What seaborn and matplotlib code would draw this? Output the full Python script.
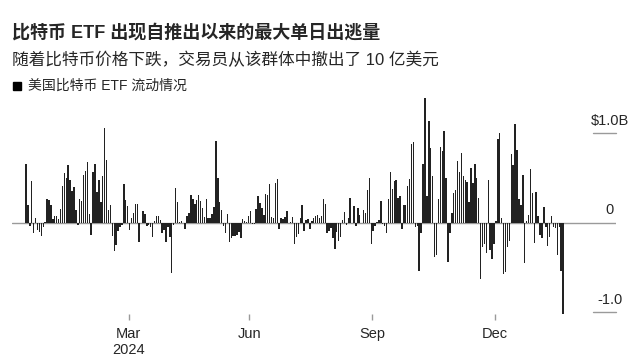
import numpy as np
import pandas as pd
import matplotlib
matplotlib.use("Agg")
import matplotlib.pyplot as plt
import matplotlib.transforms as mtransforms
from matplotlib.patches import Rectangle
import seaborn as sns

# Set styling (font list after set_theme, it resets font.family)
sns.set_theme(style="white")
FONT = ['Liberation Sans', 'Noto Sans CJK SC']
plt.rcParams.update({
    'figure.facecolor': 'white',
    'axes.facecolor': 'white',
    'font.family': FONT,
    'font.size': 10.5,
})

# Daily net flows of US spot bitcoin ETFs (billion USD), one list per month
flows_2024_01 = [0.66, 0.20, -0.04, 0.47, -0.12, 0.05, -0.08, -0.10, -0.15, -0.05, 0.01, 0.26, 0.25, 0.20]
flows_2024_02 = [0.04, 0.08, 0.07, 0.04, 0.15, 0.41, 0.55, 0.50, 0.64, 0.48, 0.35, 0.40, 0.14, -0.03,
                 0.26, 0.24, 0.53, 0.58, 0.68, 0.10]
flows_2024_03 = [-0.14, 0.57, 0.66, 0.34, 0.48, 0.23, 0.52, 1.06, 0.70, 0.14, 0.20, -0.15, -0.32, -0.25,
                 -0.09, -0.05, -0.03, 0.43, 0.25, 0.19]
flows_2024_04 = [-0.08, 0.05, 0.11, 0.21, 0.21, -0.22, 0.00, 0.13, 0.10, -0.04, -0.03, -0.05, -0.16, 0.02,
                 0.07, 0.07, 0.03, -0.12, -0.08, -0.21, -0.05, -0.16]
flows_2024_05 = [-0.56, -0.03, 0.39, 0.23, 0.01, 0.02, 0.00, -0.07, 0.07, 0.11, 0.31, 0.26, 0.21, 0.25,
                 0.31, 0.24, 0.16, 0.06, 0.26, 0.05, 0.05, 0.10]
flows_2024_06 = [0.17, 0.91, 0.50, 0.23, 0.14, -0.04, -0.12, 0.10, -0.21, -0.17, -0.15, -0.15, -0.14, -0.10,
                 -0.17, 0.04, 0.02, 0.01, 0.07]
flows_2024_07 = [0.13, -0.01, -0.01, 0.15, 0.30, 0.22, 0.16, 0.09, 0.32, 0.31, 0.43, 0.06, 0.05, 0.44,
                 0.49, -0.07, 0.05, 0.04, 0.06, 0.13, 0.00, 0.01]
flows_2024_08 = [0.06, -0.24, -0.16, -0.13, 0.05, 0.20, -0.09, 0.03, 0.04, -0.07, 0.02, 0.05, 0.07, 0.09,
                 0.05, 0.07, 0.26, 0.21, -0.12, -0.09, -0.06, -0.17]
flows_2024_09 = [-0.29, -0.10, -0.20, -0.16, 0.03, 0.12, -0.03, 0.05, 0.27, 0.00, 0.19, -0.04, 0.16, 0.09,
                 0.00, 0.14, 0.11, 0.37, 0.50, -0.24]
flows_2024_10 = [-0.09, -0.04, 0.01, 0.03, 0.24, -0.01, -0.04, -0.12, 0.26, 0.57, 0.38, 0.47, 0.48, 0.28,
                 0.30, -0.07, 0.20, 0.20, 0.41, 0.49, 0.88, 0.90, -0.05]
flows_2024_11 = [-0.04, -0.54, -0.11, 0.65, 1.39, 0.30, 1.13, 0.83, 0.52, -0.38, -0.36, 0.26, 0.84, 0.80,
                 1.02, 0.50, -0.44, -0.12, 0.11, 0.33]
flows_2024_12 = [0.36, 0.69, 0.57, 0.78, 0.52, 0.48, 0.45, 0.23, 0.61, 0.44, 0.65, 0.50, 0.28, -0.63,
                 -0.27, -0.24, -0.34, 0.48, -0.30, -0.41, -0.24]
flows_2025_01 = [0.02, 0.93, 1.00, 0.05, -0.57, -0.55, -0.27, -0.20, 0.77, 0.64, 1.10, 0.81, 0.26, 0.20,
                 0.53, -0.45, 0.02, 0.09, 0.60, 0.33]
flows_2025_02 = [-0.23, 0.34, 0.07, -0.14, -0.17, 0.18, -0.05, -0.26, -0.16, 0.07, -0.05, -0.06, -0.36,
                 -0.05, -0.54, -1.02]

# Trading calendar (US market holidays in the period)
START, END = '2024-01-11', '2025-02-25'
HOLIDAYS = ['2024-01-15', '2024-02-19', '2024-03-29', '2024-05-27', '2024-06-19', '2024-07-04',
            '2024-09-02', '2024-11-28', '2024-12-25', '2025-01-01', '2025-01-09', '2025-01-20',
            '2025-02-17']

tick_months = ['2024-03', '2024-06', '2024-09', '2024-12']
tick_labels = ['Mar\n2024', 'Jun', 'Sep', 'Dec']
ytick_values = [1.0, 0.0, -1.0]
ytick_labels = [r'\$1.0B', '0', '-1.0']

TITLE = '比特币 ETF 出现自推出以来的最大单日出逃量'
SUBTITLE = '随着比特币价格下跌，交易员从该群体中撤出了 10 亿美元'
LEGEND = '美国比特币 ETF 流动情况'

BAR_COLOR = '#222222'
GRID_COLOR = '#9a9a9a'

month_flows = [flows_2024_01, flows_2024_02, flows_2024_03, flows_2024_04, flows_2024_05,
               flows_2024_06, flows_2024_07, flows_2024_08, flows_2024_09, flows_2024_10,
               flows_2024_11, flows_2024_12, flows_2025_01, flows_2025_02]

dates = pd.date_range(START, END, freq=pd.offsets.CustomBusinessDay(holidays=HOLIDAYS))
df = pd.DataFrame({'date': dates, 'flow': np.concatenate(month_flows)})
df['pos'] = np.arange(len(df))
df['month'] = df['date'].dt.strftime('%Y-%m')

W, H = 643, 361
fig = plt.figure(figsize=(W / 100, H / 100), dpi=100)
ax = fig.add_axes([12 / W, 1 - 320 / H, 604 / W, 225 / H])

ax.axhline(0, color=GRID_COLOR, lw=1, zorder=0.5)
sns.barplot(data=df, x='pos', y='flow', native_scale=True, color=BAR_COLOR, saturation=1,
            width=0.75, linewidth=0, ax=ax, zorder=2)

ax.set_xlim(-7.3, 307.6)
ax.set_ylim(-1.085, 1.424)
ax.set_xlabel('')
ax.set_ylabel('')
for s in ax.spines.values():
    s.set_visible(False)

# x ticks sit at the end of the labelled month
tick_pos = [df.loc[df['month'] == m, 'pos'].max() + 0.5 for m in tick_months]
ax.set_xticks(tick_pos)
ax.set_xticklabels(tick_labels, fontsize=10.5)
ax.tick_params(axis='x', bottom=True, direction='in', length=4.3, width=1, color=GRID_COLOR, pad=5)
ax.tick_params(axis='y', left=False, labelleft=False)

# right-hand value labels above short tick lines
trans = mtransforms.blended_transform_factory(ax.transAxes, ax.transData)
for v, lab in zip(ytick_values, ytick_labels):
    if v != 0:
        ax.plot([0.962, 1.0], [v, v], transform=trans, color=GRID_COLOR, lw=1, clip_on=False)
    ax.annotate(lab, xy=(0.99, v), xycoords=trans, xytext=(0, 6), textcoords='offset points',
                ha='center', va='baseline', fontsize=10.5)

# titles and legend
fig.text(11.7 / W, 1 - 33 / H, TITLE, fontsize=13, fontweight='bold', ha='left', va='center')
fig.text(11.7 / W, 1 - 60 / H, SUBTITLE, fontsize=12, ha='left', va='center')
fig.patches.append(Rectangle((13 / W, 1 - 89.5 / H), 8 / W, 8 / H, transform=fig.transFigure,
                             color='black'))
fig.text(28 / W, 1 - 85.5 / H, LEGEND, fontsize=10, ha='left', va='center')

fig.savefig('out.png', dpi=100)
plt.close(fig)
